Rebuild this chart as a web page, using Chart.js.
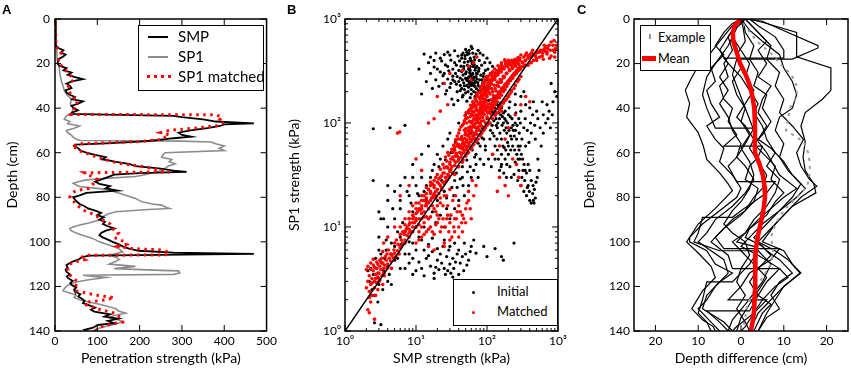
<!DOCTYPE html>
<html><head><meta charset="utf-8">
<script src="https://cdn.jsdelivr.net/npm/chart.js@4.4.1/dist/chart.umd.min.js"></script>
<style>
body{margin:0;background:#fff;}
#wrap{position:relative;width:851px;height:378px;overflow:hidden;font-family:Lato,sans-serif;background:#fff;}
canvas{position:absolute;top:0;}
.lg{position:absolute;box-sizing:border-box;border:1.5px solid #000;background:#fff;}
.t{position:absolute;font-family:Lato,sans-serif;white-space:nowrap;color:#000;}
.s{position:absolute;}
.panel{position:absolute;font-family:"Liberation Sans",Arial,sans-serif;font-weight:bold;font-size:13px;line-height:13px;color:#000;}
</style></head><body>
<div id="wrap">
<canvas id="cA" width="280" height="378" style="left:0px"></canvas>
<canvas id="cB" width="290" height="378" style="left:280px"></canvas>
<canvas id="cC" width="281" height="378" style="left:570px"></canvas>

<div class="panel" style="left:2px;top:3px">A</div>
<div class="panel" style="left:287px;top:3px">B</div>
<div class="panel" style="left:577px;top:3px">C</div>

<div class="lg" style="left:138px;top:25px;width:126px;height:66px"></div>
<div class="s" style="left:148px;top:36px;width:20px;height:2px;background:#000"></div>
<div class="t" style="left:178px;top:29px;font-size:15px;line-height:15px">SMP</div>
<div class="s" style="left:148px;top:56px;width:20px;height:1.5px;background:#8c8c8c"></div>
<div class="t" style="left:178px;top:49px;font-size:15px;line-height:15px">SP1</div>
<div class="s" style="left:147px;top:75px;width:24px;height:3px;background:repeating-linear-gradient(90deg,#f00 0 3px,transparent 3px 7px)"></div>
<div class="t" style="left:178px;top:69px;font-size:15px;line-height:15px">SP1 matched</div>

<div class="lg" style="left:453px;top:279px;width:105px;height:47px"></div>
<div class="s" style="left:471.5px;top:290.5px;width:3px;height:3px;border-radius:50%;background:#000"></div>
<div class="t" style="left:497px;top:285px;font-size:13px;line-height:13px">Initial</div>
<div class="s" style="left:471.5px;top:310.5px;width:3px;height:3px;border-radius:50%;background:#f00"></div>
<div class="t" style="left:497px;top:305px;font-size:13px;line-height:13px">Matched</div>

<div class="lg" style="left:640px;top:25px;width:71px;height:46px"></div>
<div class="s" style="left:649px;top:34px;width:2px;height:5px;background:#999"></div>
<div class="t" style="left:658px;top:30.5px;font-size:12.7px;line-height:13px">Example</div>
<div class="s" style="left:642px;top:56px;width:14px;height:4.5px;background:#f00"></div>
<div class="t" style="left:658px;top:51.5px;font-size:12.7px;line-height:13px">Mean</div>
</div>
<script>
// ---------- Panel A: [depth (cm), strength (kPa)] ----------
const smpProfile = [[0,1],[4,1],[8,2],[12,2],[13,8],[14,20],[15,14],[16,25],[17,18],[18,8],[20,6],[21,10],[22,27],[23,20],[24,39],[25,30],[26,45],[27,66],[28,40],[29,27],[30,35],[31,39],[32,25],[33,27],[34,35],[35,47],[36,40],[37,66],[38,55],[39,39],[40,45],[41,54],[42,40],[42.6,40],[43,150],[43.5,280],[44,300],[45,350],[46,380],[46.8,470],[47.3,400],[48,390],[49,360],[50,320],[51,292],[52,300],[52.8,322],[53.5,280],[54.3,245],[55,200],[55.8,120],[56.4,50],[57,45],[58,55],[59,60],[60,74],[61,95],[62,120],[63,112],[63.5,130],[64,140],[65,175],[66,190],[67,245],[68,280],[68.6,311],[69.2,200],[69.8,140],[70.7,128],[72,110],[73,95],[74,105],[75,130],[76,120],[77,148],[78,74],[79,60],[80,43],[81,47],[82,52],[83,58],[84,70],[85,78],[86,95],[87,109],[88,100],[89,115],[90,105],[91,118],[92,113],[93,125],[94,140],[95,120],[96,109],[97,105],[98,113],[99,125],[100,136],[101,150],[102,160],[103,175],[104,198],[104.8,280],[105.4,470],[105.8,250],[106.2,80],[107,63],[108,55],[109,40],[110.4,27],[111.5,30],[112.5,25],[113.4,27],[114.5,35],[115.5,28],[116.3,31],[117.5,42],[118.5,36],[119.3,39],[120.5,50],[121.5,45],[122.3,47],[123.5,60],[124.5,55],[125.3,62],[126.5,70],[127.5,66],[128.3,78],[129.5,95],[130.5,85],[131.3,93],[132.5,130],[133.5,117],[134.5,150],[135.5,125],[136.5,140],[137.3,101],[138.5,90],[139.5,70],[140,75]];
const sp1Profile = [[0,2],[10,3],[18,5],[20,8],[22,10],[25,12],[28,15],[30,19],[32,22],[34,28],[36,39],[38,36],[40,43],[42,40],[43,30],[44,25],[45,22],[46,35],[47,30],[48,58],[49,45],[50,27],[51,30],[52,38],[53,43],[54,50],[54.5,60],[54.8,300],[55.2,369],[56,380],[57,400],[58,388],[59,400],[60,260],[61,255],[62,252],[63,276],[64,270],[65,284],[66,268],[67,260],[68,252],[69,230],[70,210],[70.7,190],[71.5,120],[72.2,74],[73,55],[73.7,43],[74.5,50],[75.2,58],[76,100],[76.7,128],[77.5,140],[78.2,152],[79,165],[80.5,190],[81.5,200],[82,206],[83,230],[83.5,252],[84.5,262],[85,270],[85.5,220],[86.5,144],[87.5,125],[88.7,113],[90.2,105],[91.5,80],[92.4,58],[93.5,40],[94,35],[95,38],[96,50],[97,65],[98,82],[99,95],[100,105],[101,120],[102,136],[103,150],[104.5,160],[105.5,140],[106,130],[107,145],[108,152],[109,140],[110,128],[111,190],[112,140],[112.8,250],[113,292],[114,295],[114.6,280],[115,66],[115.5,90],[116,120],[117,80],[118,50],[119,35],[120,27],[121,22],[122,19],[123,35],[124,50],[125,45],[126,58],[127,80],[128,105],[129,125],[130,144],[131,150],[132,167],[133,140],[134,128],[135,150],[136,160],[137,140],[138,120],[139,100],[140,90]];
const sp1MatchedProfile = [[0,1],[5,1],[10,2],[13,5],[15,15],[17,12],[19,7],[21,15],[23,25],[25,35],[27,45],[29,35],[31,30],[33,35],[35,42],[37,55],[39,45],[41,45],[42.8,38],[42.9,200],[43,380],[44,395],[45,390],[46,400],[47,395],[48,380],[49,330],[50,270],[51,250],[52,270],[53,260],[54,255],[55,200],[56,60],[57,40],[58,50],[59,55],[60,70],[62,100],[64,135],[65,160],[66,200],[67,230],[68,250],[68.6,270],[69,70],[70,80],[72,100],[74,90],[76,80],[77,50],[78,40],[80,35],[82,45],[84,55],[86,70],[88,95],[90,110],[92,130],[94,135],[96,150],[98,140],[100,165],[101,170],[102,150],[103,180],[103.6,250],[104,260],[105,270],[105.9,260],[106,80],[107,60],[108,70],[109,45],[110,35],[112,30],[114,32],[116,40],[118,55],[120,48],[122,50],[124,100],[125,140],[126,120],[127,80],[128,70],[130,100],[132,140],[134,155],[136,160],[137,130],[138,110],[140,95]];
const strengthTicks = [0,100,200,300,400,500];
const depthTicks = [0,20,40,60,80,100,120,140];

// ---------- Panel B: [SMP strength, SP1 strength] (kPa) ----------
const initialPoints = [[52,480],[58,420],[61,390],[47,350],[55,330],[63,300],[70,280],[50,270],[45,260],[57,250],[66,240],[75,230],[40,320],[36,300],[30,450],[28,480],[22,420],[18,400],[15,380],[20,330],[25,300],[33,260],[42,230],[48,210],[54,200],[60,190],[68,180],[80,220],[85,260],[90,300],[72,350],[66,430],[78,400],[84,360],[95,200],[38,200],[30,220],[24,240],[19,260],[35,380],[44,420],[50,510],[62,520],[70,460],[56,280],[52,230],[46,290],[64,260],[58,350],[40,250],[28,350],[16,300],[13,460],[12,190],[26,190],[32,170],[100,420],[110,380],[88,450],[75,500],
[53,455],[49,415],[62,372],[57,338],[44,312],[68,322],[73,298],[59,287],[51,262],[47,243],[63,231],[71,214],[55,221],[42,205],[37,236],[33,282],[29,318],[26,362],[23,395],[31,402],[39,440],[46,470],[54,390],[66,365],[77,335],[82,288],[87,243],[92,215],[98,185],[105,165],[58,175],[64,158],[52,162],[45,178],[39,165],[34,150],[27,205],[21,225],[17,215],[14,250],[11,330],[19,470],[35,495],[60,545],[80,470],[93,380],[103,330],[57,305],[61,268],[50,298],[43,352],[48,383],[67,405],[72,265],[69,250],[76,205],[83,178],[60,210],[56,240],[53,255],
[49,445],[56,465],[59,400],[64,350],[53,360],[47,330],[51,310],[58,320],[62,290],[66,275],[54,270],[48,228],[44,215],[61,245],[67,225],[74,245],[79,260],[71,300],[76,315],[69,340],[63,470],[56,500],[44,450],[41,395],[37,360],[33,330],[38,280],[42,270],[35,250],[31,240],[28,265],[24,285],[22,310],[18,345],[16,430],[25,455],[65,200],[70,195],[80,200],[89,280],[95,320],[99,260],[108,230],[112,300],[120,350],[59,230],[50,195],[46,185],
[120,160],[140,150],[160,140],[130,120],[150,110],[180,130],[200,120],[170,100],[140,90],[120,80],[110,70],[130,60],[160,70],[190,80],[220,90],[250,100],[280,110],[300,130],[350,150],[400,140],[450,160],[500,130],[260,70],[230,60],[200,50],[180,45],[160,40],[150,35],[210,38],[240,32],[270,28],[300,25],[330,22],[360,20],[400,18],[420,17],[450,18],[380,25],[320,35],[290,45],[350,60],[420,80],[480,70],[600,160],[700,150],[850,160],[520,45],[120,50],[105,45],[95,55],[90,70],[85,90],[100,110],[115,130],[135,175],[250,150],[300,180],[80,60],[70,40],[75,30],[750,130],[900,200],[800,240],
[115,145],[125,105],[135,95],[145,125],[155,155],[165,115],[175,85],[185,105],[195,65],[205,140],[215,75],[225,110],[235,85],[245,55],[255,125],[265,95],[275,60],[285,80],[295,100],[310,70],[330,90],[345,110],[370,85],[390,65],[410,100],[440,120],[470,95],[520,110],[560,90],[620,120],[140,55],[160,50],[175,58],[190,40],[220,30],[250,42],[280,35],[310,30],[340,28],[370,24],[395,22],[440,21],[460,17],[480,19],[110,100],[125,175],[100,140],[130,45],[115,38],[210,160],[330,200],[250,190],
[122,125],[128,140],[134,110],[142,100],[148,135],[156,120],[163,95],[171,125],[178,110],[186,90],[196,100],[204,85],[212,115],[222,70],[232,95],[242,75],[252,85],[263,50],[273,45],[283,55],[294,60],[305,50],[318,45],[333,40],[345,35],[360,33],[380,40],[400,35],[420,28],[445,25],[465,23],[490,27],[510,30],[540,35],[580,60],[620,80],[670,100],[720,110],[780,90],[830,120],[960,180],[112,85],[118,95],[126,75],[138,70],[152,80],[168,60],[184,55],[200,60],[216,55],[145,45],[158,38],[172,33],[188,30],
[10,10],[12,15],[15,12],[20,18],[25,22],[30,35],[35,28],[40,45],[45,38],[8,12],[7,9],[6,8],[9,14],[11,20],[14,25],[16,30],[18,40],[20,50],[24,60],[28,70],[22,45],[12,30],[10,25],[8,20],[6,15],[5,12],[4,10],[3,8],[2.5,28],[3,14],[3.5,12],[4,25],[5,22],[6,18],[7,30],[9,40],[12,50],[15,60],[30,80],[40,100],[50,120],[35,55],[45,70],[60,80],[70,90],[55,60],[65,75],[80,100],[48,20],[55,25],[60,30],[35,15],[30,12],[25,10],[40,18],[70,50],[80,45],[90,40],[65,35],[45,30],[2.5,88],[4.3,90],[7,95],
[14,18],[17,14],[23,28],[27,19],[32,24],[37,33],[42,29],[52,44],[58,38],[62,55],[67,47],[75,64],[85,72],[95,60],[11,8],[13,10],[9,7],[7,5.5],[19,11],[22,13],[27,15],[34,20],[38,24],[46,25],[53,34],[4.5,7],[5.5,9],[6.5,11],[8.5,17],[10.5,21],[13,22],[17,35],[21,38],[26,44],[31,52],[36,65],[9,30],[6,25],[4,18],[3.2,12],[4.7,15],[7.5,22],[3,6],[3.8,7.5],[5,6.5],[6.2,6.8],[8,7.2],
[6,4],[8,4.5],[10,3.8],[12,4],[14,5],[16,4.2],[18,3.6],[20,4.8],[22,5.5],[25,4],[28,3.8],[30,4.4],[33,5],[36,4.6],[40,3.5],[45,5.2],[50,5.5],[55,4.8],[40,6],[35,7],[30,6.5],[25,7.5],[20,6.2],[15,6.8],[12,7.5],[10,6],[8,5.5],[60,6.5],[70,5.6],[130,6.2],[160,5.2],[170,4.8],[240,7],[26,3.5],[33,3.3],[18,3.2],[13,3.4],[9,3.5],
[7,4],[9,5],[11,4.6],[13,6],[15,5.3],[17,5.8],[19,4.1],[21,3.9],[23,4.5],[27,5.2],[29,6],[31,3.6],[34,4],[38,5.5],[42,4.5],[47,3.8],[52,4.3],[58,5.8],[24,6.5],[17,7.8],[48,7],[65,7.5],[90,6.5],[100,5.2],
[2.2,3],[2.5,3.5],[2.8,4],[3,3.2],[3.3,4.5],[3.6,5],[4,4.2],[2.4,2.5],[2.6,2.2],[3,2.8],[3.5,3.8],[4.2,3.5],[4.5,5.5],[5,4.8],[2.3,4],[2.7,5],[3.2,5.5],[3.8,6],[2.9,1.9],[3.4,2.5],[2.6,1.2],[3.2,1.15],[4,3],[4.5,2.8],[5.5,5],[2.1,3.8],[2.9,3.6]];
const matchedPoints = [[2,2.6],[2.1,3],[2.2,3.4],[2.3,2.8],[2.4,3.2],[2.5,3.8],[2.6,3],[2.7,3.5],[2.8,4],[2.9,3.3],[3,3.6],[3.1,4.2],[3.2,3.9],[3.3,3.4],[3.4,4.5],[3.5,4],[3.6,4.3],[3.8,4.8],[4,4.4],[4.2,5],[4.4,4.7],[4.6,5.3],[4.8,5],[5,5.6],[5.2,5.2],[5.5,5.9],[5.8,5.5],[6,6.3],[2.2,2.4],[2.4,2.2],[2.6,2.6],[2.8,2.9],[3,3],[2.1,1.6],[2.3,1.9],[2.5,4.3],[2.3,3.9],[2.9,4.4],[3.6,3.4],[4.5,4],[2.2,1.5],[2.7,2.2],[3.3,5],[3.9,5.5],[2,3.9],[2.6,1.3],
[6.5,7],[7,7.5],[7.5,8.3],[8,8.8],[8.5,9],[9,10],[9.5,11],[10,11.5],[11,12],[12,13.5],[13,14],[14,16],[15,17],[16,18],[17,19],[18,21],[19,22],[20,23],[22,25],[24,27],[26,30],[28,32],[30,34],[7,9],[8,10.5],[9,12],[10,13.5],[11,15],[12,16],[13,18],[14,19],[16,21],[18,24],[20,27],[22,30],[25,33],[28,37],[6,6.5],[7,7],[8,8],[9,9],[10,10],[11,10.5],[12,12],[13,12.5],[15,15],[17,16],[19,19],[21,21],[23,23],[25,26],[27,28],[29,30],[10,17],[12,20],[14,24],[16,27],[8,14],[9,16],[12,10],[15,12],[18,15],[20,16],[22,19],[25,20],[6,10],[7,12],[5,10],[4,8],[3.5,7],
[5,7],[6,8.5],[7,10.5],[8,12],[9,13],[10,15],[11,17],[12,18],[13,20],[14,21],[15,23],[16,25],[17,26],[18,28],[19,30],[6.5,9],[7.3,9.5],[8.2,11],[9.2,12.5],[10.5,14],[11.5,14.5],[13.5,16],[14.5,17.5],[16.5,19],[17.5,20],
[10,7],[12,8],[14,9],[16,10],[18,8.5],[20,11],[22,9],[24,12],[26,10],[28,13],[30,11],[32,8],[35,12],[38,14],[40,10],[45,13],[50,15],[15,6.5],[18,6],[25,7],[30,7.5],[40,8],[55,18],[60,12],[28,16],[33,18],[36,20],[20,13],[16,12.5],[13,11],[11,9],[45,9],[50,11],
[20,32],[22,36],[24,40],[26,47],[28,52],[21,26],[23,31],[25,37],[27,43],[29,49],[32,56],[34,61],[36,69],[38,75],[31,45],[33,52],[35,58],[37,64],[39,70],
[30,40],[32,38],[34,44],[36,42],[38,48],[40,46],[42,52],[44,50],[46,56],[48,55],[50,60],[52,58],[54,65],[56,62],[58,70],[60,68],[63,75],[66,72],[69,80],[72,78],[75,88],[78,85],[82,95],[86,92],[90,105],[95,100],[100,115],[105,110],[110,125],[115,120],[120,140],[125,135],[130,150],[140,160],[150,175],[160,185],[170,200],[180,210],[190,225],[200,240],[215,255],[230,270],[245,290],[260,300],[280,320],[300,340],[35,55],[40,62],[45,70],[50,80],[55,90],[60,100],[65,110],[70,120],[75,130],[80,140],[85,150],[90,160],[95,170],[100,180],[110,190],[120,200],[130,215],[140,230],[150,245],[160,260],[175,280],[190,300],[210,320],[230,340],[250,360],[270,380],[40,80],[45,95],[50,110],[55,125],[60,140],[65,150],[70,165],[75,180],[80,195],[85,210],[90,230],[95,250],[100,270],[110,290],[120,310],[60,120],[70,145],[80,170],[90,200],[100,230],[110,260],[120,280],[130,300],[140,320],[150,340],[160,360],[180,390],[200,400],[40,38],[50,48],[60,56],[70,66],[80,76],[90,85],[100,95],[120,110],[140,125],[160,145],[180,165],[200,180],[220,200],[250,230],[35,32],[45,42],[55,52],[65,62],[75,70],[85,80],[95,90],[110,100],[130,118],[150,135],[170,155],[190,170],[210,190],[240,215],[270,250],[300,280],[42,70],[48,85],[52,100],[58,115],[62,130],[68,150],[72,160],[78,175],[84,185],[88,190],[92,210],[98,220],[104,240],[108,250],[115,265],[125,285],[135,295],[145,310],[155,325],[165,335],[185,355],[205,370],[225,385],[245,395],[265,405],[290,420],
[31,36],[33,47],[35,39],[37,51],[39,43],[41,58],[43,47],[45,63],[47,52],[49,71],[51,55],[53,76],[55,60],[57,83],[59,66],[61,91],[63,70],[65,97],[67,78],[69,107],[71,84],[73,116],[75,92],[77,125],[79,99],[81,135],[83,104],[85,145],[87,113],[89,158],[91,121],[93,168],[97,131],[99,183],[102,142],[106,198],[111,153],[116,214],[121,168],[127,231],[133,182],[139,248],[146,198],[153,262],[161,215],[169,281],[178,232],[187,299],[197,251],[207,318],[218,270],[229,335],[241,290],[254,352],[267,312],[281,368],[296,330],[312,386],[328,352],[345,398],
[36,48],[41,52],[46,59],[51,66],[56,74],[62,82],[68,91],[74,101],[81,112],[88,124],[96,137],[104,151],[113,167],[123,184],[134,203],[146,224],[159,247],[173,272],[188,300],[205,330],[223,355],[243,372],
[38,60],[44,74],[50,88],[57,104],[64,118],[71,134],[79,152],[87,171],[96,191],[106,213],[117,237],[129,262],[142,290],[156,318],[171,342],[189,365],
[33,33],[39,38],[46,44],[53,51],[61,58],[70,67],[80,77],[91,87],[103,98],[117,111],[133,126],[151,142],[171,161],[194,182],[220,205],[249,232],[282,262],
[48,105],[55,130],[63,142],[72,190],[82,220],[92,245],[103,280],[115,300],[128,330],[143,355],[160,380],[178,405],
[41,86],[43,92],[47,99],[49,118],[51,126],[53,112],[57,135],[59,148],[61,122],[63,160],[66,128],[68,172],[70,138],[73,184],[76,152],[78,198],[81,160],[84,226],[86,175],[88,240],[91,185],[93,262],[96,205],[98,280],[42,60],[46,66],[49,77],[54,84],[58,92],[62,104],[66,96],[70,112],[74,118],[79,128],[83,136],[87,142],[92,152],[97,160],[44,57],[48,63],[52,69],[56,78],[60,86],[64,92],[69,99],[73,106],[77,110],[82,120],[86,128],[91,134],[95,145],
[101,206],[107,226],[112,240],[118,255],[124,270],[131,280],[137,312],[144,300],[151,330],[158,310],[166,350],[174,330],[183,372],[193,350],[203,385],[213,362],[224,400],[236,378],[248,410],[261,390],[274,425],[288,400],[102,125],[109,138],[116,145],[122,158],[129,168],[136,176],[143,188],[150,196],[158,206],[166,218],[175,226],[184,238],[193,246],[203,258],[214,268],[225,282],[237,296],[249,306],[262,320],[276,334],[290,348],[105,128],[112,135],[119,148],[127,160],[135,170],[144,180],[153,192],[163,205],[173,219],[184,233],[196,248],[208,262],[221,276],[235,290],[250,305],[266,322],
[18,25],[21,29],[24,33],[27,38],[30,42],[19,20],[23,24],[26,27],[29,31],[16,22],[14,17],[12,15],[10,12],[9,11],[8,9.5],[7.5,10],[6.8,8.5],[6.2,7.5],[5.6,6.8],[5.3,7.5],[4.9,6],[4.4,5.5],[4.1,6],[3.7,5.2],[3.4,5.8],[3.1,4.8],[2.8,4.6],[2.5,4.9],[2.3,4.5],[2.1,4.2],[2.4,2.9],[2.7,3.2],[3.1,3.1],[3.5,3.6],[3.9,4],[2.2,2.1],[2.9,2.5],[3.4,2.8],[2.6,4.1],[3.2,4.6],
[11,7.5],[13,8.5],[15,9.5],[17,9],[19,10.5],[21,12],[23,10],[27,12],[29,9],[31,13],[34,10],[37,12],[42,14],[47,12],[52,17],[58,15],[65,20],[70,25],[24,16],[27,20],[30,23],[19,14],[22,17],[14,12.5],[25,6.5],[35,9],[44,11],[40,16],[55,22],[62,28],
[320,380],[350,400],[380,420],[400,450],[420,430],[450,460],[480,440],[500,470],[550,480],[600,500],[650,520],[700,540],[750,560],[800,600],[850,500],[900,480],[950,560],[350,360],[400,380],[450,400],[500,420],[600,440],[700,460],[800,440],[330,430],[360,470],[300,450],[280,410],
[380,440],[420,470],[460,450],[510,480],[560,500],[610,470],[660,490],[720,520],[780,500],[850,560],[920,520],[500,400],[550,430],[620,410],[700,480],[760,420],[900,430],[880,620],[640,560],[420,380],[380,360],[440,500],[350,450],[320,350],
[25,240],[20,180],[30,300],[45,320],[55,350],[65,380],[72,430],[60,260],[18,110],[15,100],[22,130],[28,150],[120,50],[150,60],[180,70],[200,90],[250,120],[300,150],[260,40],[280,30],[300,25],[230,45],[150,30],[140,22],[180,25],[200,20],[350,180],[400,160],[120,200],[160,130],[8,25],[12,35],[6,20],[5.5,80],[5.9,82],[10,45]];
const identityLine = [1, 1000];
const logTicks = [1, 10, 100, 1000];

// ---------- Panel C: [depth (cm), depth difference (cm)] ----------
const meanProfile = [[0,0],[3,-1.5],[6,-1.9],[10,-1.8],[15,-1],[20,-0.2],[25,1.1],[30,2.1],[35,2.7],[40,3.1],[45,3.2],[50,3.3],[55,3.2],[60,3.3],[65,4.3],[70,5.1],[75,5.5],[80,5.6],[85,5.3],[90,4.8],[95,4.2],[100,3.7],[105,3.4],[110,3.3],[115,3.3],[120,3.3],[125,3.2],[130,3.1],[135,2.8],[140,2.3]];
const exampleProfile = [[2,0.5],[10,3.7],[15,6.8],[20,9.1],[25,11.8],[30,13],[35,13],[40,11.4],[45,11],[50,10.5],[55,14.6],[60,15.7],[65,16.1],[70,16],[75,15.5],[80,13],[86,10],[92,8],[98,7],[104,7.5],[110,7],[116,5],[122,3],[128,1.5],[134,1],[138,0.5]];
const shiftProfiles = [
 [[0,1],[1,5],[12,18],[13,18],[18,12],[18,-1],[25,-2],[35,0],[45,2],[55,4],[60,6],[70,9],[76,13],[80,10],[90,4],[100,-1],[102,3],[110,7],[118,5],[128,1],[135,-2],[140,-3]],
 [[0,2],[2,6],[6,13],[17,13],[22,21],[32,21],[36,19],[42,15],[48,14],[55,15],[62,14.5],[68,15],[74,17],[78,17.5],[84,12],[92,8],[100,5],[104,10],[110,12],[114,14],[120,10],[128,6],[132,4],[140,2]],
 [[0,0],[3,-2],[10,-5],[15,-7],[21,-10],[28,-12],[32,-13],[38,-12],[44,-12.7],[51,-10],[57,-8.8],[63,-8],[69,-5],[74,-3],[77,-2],[85,-6],[92,-10],[100,-12.7],[105,-10],[111,-7],[116,-6],[122,-9],[130,-11.5],[135,-9],[138,-6.5],[140,-6]],
 [[0,1],[4,-1],[12,-3],[20,-6],[26,-8],[34,-9],[40,-8],[49,-6],[49,3],[56,1],[62,-1],[66,-3],[73,-1],[73,8],[78,6],[86,0],[89,-2],[89,-9],[96,-10],[100,-11],[104,-5],[104,4],[110,2],[118,-2],[118,-8],[126,-9],[132,-10],[136,-8],[140,-7]],
 [[0,0],[5,2],[10,5],[16,9],[22,10],[28,12],[34,13],[40,12],[44,9],[50,8],[56,10],[62,9],[68,11],[74,14],[80,12],[86,9],[92,5],[96,3],[102,0],[106,4],[112,9],[116,11],[120,8],[126,5],[132,3],[138,1],[140,0]],
 [[0,0],[4,-1.5],[8,-3],[14,-2],[20,-4],[26,-3],[30,-5],[36,-4],[40,-2],[46,-3],[52,-1],[57,-4],[57,5],[62,4],[66,2],[72,1],[76,4],[82,3],[88,0],[94,-4],[98,-6],[103,-4],[103,9],[108,7],[114,2],[120,0],[126,-3],[126,6],[132,3],[138,-1],[140,-2]],
 [[0,0.5],[6,1],[12,3],[18,2],[24,4],[30,3],[34,6],[40,5],[46,7],[52,5],[56,3],[62,6],[66,8],[72,7],[78,10],[82,8],[88,6],[94,2],[98,1],[102,5],[106,7],[112,4],[118,2],[124,4],[128,7],[132,5],[140,3]],
 [[0,0],[3,-1],[8,-2],[14,0],[20,2],[26,1],[32,3],[38,1],[44,-1],[48,1],[54,3],[58,2],[64,4],[70,6],[76,5],[80,3],[86,1],[90,-2],[96,-5],[100,-7],[106,-3],[112,-2],[112,9],[118,6],[124,4],[131,2],[131,-8],[136,-5],[140,-3]],
 [[0,0],[2,-2],[6,-4],[12,-6],[16,-4],[22,-7],[28,-6],[32,-8],[38,-7],[44,-5],[48,-8],[54,-6],[58,-4],[64,-5],[70,-2],[76,0],[80,-1],[86,-5],[92,-9],[98,-12],[100,-12],[104,-8],[110,-6],[114,-2],[118,-5],[124,-8],[130,-9],[136,-4],[140,-2]],
 [[0,1],[6,4],[12,7],[18,6],[24,9],[30,8],[36,10],[42,9],[48,12],[54,14.6],[60,13],[66,14],[72,16],[75,17.7],[80,14],[86,11],[94,7],[100,4],[104,8],[108,11],[114,13.8],[120,10],[126,8],[132,6],[140,4]],
 [[0,0],[4,0.5],[10,1],[16,-1],[22,0],[28,-2],[34,-1],[40,1],[46,0],[52,2],[58,0],[64,2],[70,3],[76,2],[82,0],[86,-2],[92,-4],[96,-2],[100,1],[106,2],[112,0],[118,-1],[124,1],[130,-1],[136,1],[140,2]],
 [[0,2],[3,4],[8,8],[14,10],[17.6,10],[17.6,-4],[22,-2],[26,0],[32,2],[38,4],[42,3],[48,5],[54,6],[60,8],[66,6],[72,9],[78,8],[84,6],[90,3],[96,1],[100,-2],[104,0],[110,3],[116,6],[122,4],[128,2],[134,0],[140,-1]],
 [[0,0],[2,-1],[8,-3],[14,-5],[20,-3],[26,-5],[32,-3],[38,-5],[44,-3],[50,-2],[56,0],[62,-1],[66,1],[72,3],[78,1],[84,-2],[90,-6],[96,-8],[100,-10],[104,-7],[108,-4],[114,-3],[120,-6],[126,-8],[130,-10],[136,-7],[140,-5]],
 [[0,1],[4,3],[10,6],[14,4],[20,6],[26,4],[30,7],[36,5],[42,4],[48,6],[54,4],[58,7],[64,10],[70,12],[76,15],[80,13],[86,9],[92,6],[98,3],[104,6],[108,9],[114,12],[118,9],[124,7],[130,9],[134,6],[140,4]]
];
const diffTicks = [-20,-10,0,10,20];

// ---------- helpers ----------
Chart.defaults.font.family = 'Lato, sans-serif';
Chart.defaults.color = '#000';
const depthXY = arr => arr.map(p => ({x: p[1], y: p[0]}));
const pairXY = arr => arr.map(p => ({x: p[0], y: p[1]}));
const sup = {0:'\u2070',1:'\u00b9',2:'\u00b2',3:'\u00b3'};

const frame = {
  id: 'frame',
  afterDatasetsDraw(chart) {
    const {ctx, chartArea: a} = chart;
    const xs = chart.scales.x, ys = chart.scales.y;
    ctx.save();
    ctx.strokeStyle = '#000';
    ctx.lineWidth = 1;
    const tick = (scale, v, len, horiz) => {
      const p = scale.getPixelForValue(v);
      ctx.beginPath();
      if (horiz) {
        ctx.moveTo(p, a.bottom); ctx.lineTo(p, a.bottom - len);
        ctx.moveTo(p, a.top); ctx.lineTo(p, a.top + len);
      } else {
        ctx.moveTo(a.left, p); ctx.lineTo(a.left + len, p);
        ctx.moveTo(a.right, p); ctx.lineTo(a.right - len, p);
      }
      ctx.stroke();
    };
    const doScale = (scale, horiz) => {
      scale.ticks.forEach(t => tick(scale, t.value, 6, horiz));
      if (scale.type === 'logarithmic') {
        for (let e = 0; e < 3; e++) for (let k = 2; k <= 9; k++) tick(scale, k * Math.pow(10, e), 3, horiz);
      }
    };
    doScale(xs, true); doScale(ys, false);
    ctx.lineWidth = 1.5;
    ctx.strokeRect(a.left, a.top, a.right - a.left, a.bottom - a.top);
    ctx.restore();
  }
};

function axes(o) {
  const common = (extra) => Object.assign({
    grid: {display: false, drawTicks: false},
    border: {display: false}
  }, extra);
  return {
    x: common({
      type: o.xType || 'linear', min: o.xMin, max: o.xMax,
      afterBuildTicks: s => { s.ticks = o.xTicks.map(v => ({value: v})); },
      ticks: {padding: 3, autoSkip: false, maxRotation: 0, font: {size: 12}, color: '#000', callback: o.xLabel},
      title: {display: true, text: o.xTitle, color: '#000', font: {size: 14}, padding: {top: 0, bottom: 11}},
      afterFit: s => { s.height = 47; }
    }),
    y: common({
      type: o.yType || 'linear', min: o.yMin, max: o.yMax, reverse: !!o.yReverse,
      afterBuildTicks: s => { s.ticks = o.yTicks.map(v => ({value: v})); },
      ticks: {padding: o.yPad, autoSkip: false, font: {size: 12}, color: '#000', callback: o.yLabel},
      title: {display: true, text: o.yTitle, color: '#000', font: {size: 14}, padding: {top: o.yTitlePad, bottom: 0}},
      afterFit: s => { s.width = o.yWidth; }
    })
  };
}
const baseOpts = (pad, scales) => ({
  responsive: false, animation: false, events: [],
  layout: {padding: pad},
  plugins: {legend: {display: false}, tooltip: {enabled: false}},
  scales
});

// ---------- Panel A ----------
new Chart(document.getElementById('cA'), {
  type: 'scatter',
  data: {datasets: [
    {data: depthXY(sp1MatchedProfile), showLine: true, borderColor: '#ff0000', borderWidth: 3, borderDash: [2.5, 4.5], pointRadius: 0, borderCapStyle: 'butt'},
    {data: depthXY(smpProfile), showLine: true, borderColor: '#000', borderWidth: 1.8, pointRadius: 0},
    {data: depthXY(sp1Profile), showLine: true, borderColor: '#8c8c8c', borderWidth: 1.6, pointRadius: 0}
  ]},
  options: baseOpts({left: 0, right: 11, top: 19, bottom: 0}, axes({
    xMin: 0, xMax: 500, xTicks: strengthTicks, xTitle: 'Penetration strength (kPa)',
    yMin: 0, yMax: 140, yReverse: true, yTicks: depthTicks, yTitle: 'Depth (cm)',
    yPad: 5, yWidth: 55, yTitlePad: 4
  })),
  plugins: [frame]
});

// ---------- Panel B ----------
new Chart(document.getElementById('cB'), {
  type: 'scatter',
  data: {datasets: [
    {data: [{x: identityLine[0], y: identityLine[0]}, {x: identityLine[1], y: identityLine[1]}], showLine: true, borderColor: '#000', borderWidth: 1.5, pointRadius: 0},
    {data: pairXY(matchedPoints), backgroundColor: '#ff0000', borderWidth: 0, pointRadius: 1.8},
    {data: pairXY(initialPoints), backgroundColor: '#000', borderWidth: 0, pointRadius: 1.6}
  ]},
  options: baseOpts({left: 0, right: 12, top: 19, bottom: 0}, axes({
    xType: 'logarithmic', xMin: 1, xMax: 1000, xTicks: logTicks, xTitle: 'SMP strength (kPa)',
    xLabel: v => '10' + sup[Math.round(Math.log10(v))],
    yType: 'logarithmic', yMin: 1, yMax: 1000, yTicks: logTicks, yTitle: 'SP1 strength (kPa)',
    yLabel: v => '10' + sup[Math.round(Math.log10(v))],
    yPad: 4, yWidth: 65, yTitlePad: 6
  })),
  plugins: [frame]
});

// ---------- Panel C ----------
const cSets = [
  {data: depthXY(meanProfile), showLine: true, borderColor: '#ff0000', borderWidth: 4.5, pointRadius: 0},
  {data: depthXY(exampleProfile), showLine: true, borderColor: '#999', borderWidth: 2, borderDash: [3, 5], pointRadius: 0}
].concat(shiftProfiles.map(p => ({data: depthXY(p), showLine: true, borderColor: '#000', borderWidth: 1.2, pointRadius: 0})));
new Chart(document.getElementById('cC'), {
  type: 'scatter',
  data: {datasets: cSets},
  options: baseOpts({left: 0, right: 3, top: 19, bottom: 0}, axes({
    xMin: -25, xMax: 25, xTicks: diffTicks, xTitle: 'Depth difference (cm)',
    xLabel: v => String(Math.abs(v)),
    yMin: 0, yMax: 140, yReverse: true, yTicks: depthTicks, yTitle: 'Depth (cm)',
    yPad: 4, yWidth: 64, yTitlePad: 11
  })),
  plugins: [frame]
});
</script>
</body></html>
